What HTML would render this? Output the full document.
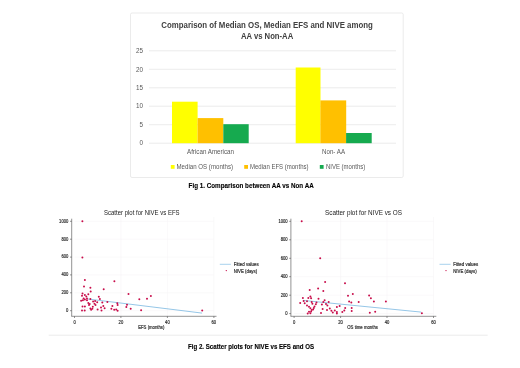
<!DOCTYPE html>
<html><head><meta charset="utf-8"><title>Figures</title>
<style>
html,body{margin:0;padding:0;background:#fff;}
body{width:520px;height:368px;overflow:hidden;}
svg{display:block;font-family:"Liberation Sans",sans-serif;}
</style></head><body>
<svg width="520" height="368" viewBox="0 0 520 368">
<defs><filter id="bl" x="0" y="0" width="100%" height="100%" filterUnits="userSpaceOnUse"><feGaussianBlur stdDeviation="0.3"/></filter></defs>
<g filter="url(#bl)">
<rect width="520" height="368" fill="#fff"/>
<!-- bar chart -->
<g>
<rect x="130.5" y="13" width="272.7" height="164.5" rx="1.5" fill="#fff" stroke="#e3e3e3" stroke-width="0.7"/>
<g stroke="#e4e4e4" stroke-width="0.7">
<line x1="149" x2="396" y1="50.8" y2="50.8"/>
<line x1="149" x2="396" y1="69.3" y2="69.3"/>
<line x1="149" x2="396" y1="87.8" y2="87.8"/>
<line x1="149" x2="396" y1="106.2" y2="106.2"/>
<line x1="149" x2="396" y1="124.7" y2="124.7"/>
<line x1="149" x2="396" y1="143.2" y2="143.2"/>
</g>
<rect x="172" y="101.7" width="25.6" height="41.5" fill="#ffff00"/>
<rect x="197.6" y="118.1" width="25.7" height="25.1" fill="#ffc000"/>
<rect x="223.3" y="124.2" width="25.4" height="19" fill="#14aa50"/>
<rect x="295.7" y="67.5" width="24.8" height="75.7" fill="#ffff00"/>
<rect x="320.4" y="100.4" width="25.8" height="42.8" fill="#ffc000"/>
<rect x="346.1" y="133" width="25.6" height="10.2" fill="#14aa50"/>
<g font-size="6.3" fill="#595959" text-anchor="end">
<text x="143" y="53">25</text><text x="143" y="71.5">20</text><text x="143" y="90">15</text>
<text x="143" y="108.4">10</text><text x="143" y="126.9">5</text><text x="143" y="145.4">0</text>
</g>
<g font-size="6.3" fill="#595959">
<text x="187" y="154" textLength="47" lengthAdjust="spacingAndGlyphs">African American</text>
<text x="322" y="154" textLength="23" lengthAdjust="spacingAndGlyphs">Non- AA</text>
<rect x="170.8" y="165" width="3.8" height="3.8" fill="#ffff00"/>
<text x="176.5" y="169" textLength="56.5" lengthAdjust="spacingAndGlyphs">Median OS (months)</text>
<rect x="244.2" y="165" width="3.8" height="3.8" fill="#ffc000"/>
<text x="250" y="169" textLength="58.5" lengthAdjust="spacingAndGlyphs">Median EFS (months)</text>
<rect x="319.8" y="165" width="3.8" height="3.8" fill="#14aa50"/>
<text x="326" y="169" textLength="39.2" lengthAdjust="spacingAndGlyphs">NIVE (months)</text>
</g>
<g font-size="9" font-weight="bold" fill="#404040">
<text x="161.3" y="28" textLength="211.5" lengthAdjust="spacingAndGlyphs">Comparison of Median OS, Median EFS and NIVE among</text>
<text x="241" y="39.2" textLength="52.2" lengthAdjust="spacingAndGlyphs">AA vs Non-AA</text>
</g>
<text x="188.6" y="188.3" font-size="7" font-weight="bold" fill="#000" stroke="#000" stroke-width="0.12" textLength="125.2" lengthAdjust="spacingAndGlyphs">Fig 1. Comparison between AA vs Non AA</text>
</g>

<!-- left scatter -->
<g>
<g stroke="#f5f3f4" stroke-width="0.5">
<line x1="74.6" x2="213.8" y1="221.3" y2="221.3"/><line x1="74.6" x2="213.8" y1="239.2" y2="239.2"/>
<line x1="74.6" x2="213.8" y1="257.1" y2="257.1"/><line x1="74.6" x2="213.8" y1="274.9" y2="274.9"/>
<line x1="74.6" x2="213.8" y1="292.8" y2="292.8"/><line x1="74.6" x2="213.8" y1="310.7" y2="310.7"/>
<line x1="120.9" x2="120.9" y1="217" y2="316"/><line x1="167.4" x2="167.4" y1="217" y2="316"/><line x1="213.8" x2="213.8" y1="217" y2="316"/>
</g>
<g stroke="#4a4a4a" stroke-width="0.6" fill="none">
<path d="M71.7 218.7V316.3M71.7 221.3h-1.7M71.7 239.2h-1.7M71.7 257.1h-1.7M71.7 274.9h-1.7M71.7 292.8h-1.7M71.7 310.7h-1.7"/>
<path d="M71.4 316.3H216.5M74.5 316.3v1.7M120.9 316.3v1.7M167.4 316.3v1.7M213.9 316.3v1.7"/>
</g>
<line x1="88" y1="299" x2="202.1" y2="313.1" stroke="#72b3df" stroke-width="0.75"/>
<g fill="#c8104c">
<circle cx="84.9" cy="279.9" r="1.0"/>
<circle cx="114.4" cy="281.3" r="1.0"/>
<circle cx="84.0" cy="286.6" r="1.0"/>
<circle cx="90.4" cy="287.7" r="1.0"/>
<circle cx="103.7" cy="289.2" r="1.0"/>
<circle cx="90.7" cy="291.5" r="1.0"/>
<circle cx="82.5" cy="293.4" r="1.0"/>
<circle cx="84.9" cy="294.9" r="1.0"/>
<circle cx="88.3" cy="294.2" r="1.0"/>
<circle cx="82.0" cy="295.8" r="1.0"/>
<circle cx="86.3" cy="296.5" r="1.0"/>
<circle cx="98.8" cy="296.8" r="1.0"/>
<circle cx="83.6" cy="298.5" r="1.0"/>
<circle cx="87.0" cy="298.5" r="1.0"/>
<circle cx="90.4" cy="298.9" r="1.0"/>
<circle cx="99.9" cy="298.9" r="1.0"/>
<circle cx="81.1" cy="300.8" r="1.0"/>
<circle cx="82.9" cy="300.2" r="1.0"/>
<circle cx="84.9" cy="299.6" r="1.0"/>
<circle cx="87.0" cy="300.2" r="1.0"/>
<circle cx="93.1" cy="301.5" r="1.0"/>
<circle cx="95.1" cy="301.0" r="1.0"/>
<circle cx="97.2" cy="302.2" r="1.0"/>
<circle cx="102.3" cy="302.6" r="1.0"/>
<circle cx="107.4" cy="301.9" r="1.0"/>
<circle cx="88.3" cy="303.0" r="1.0"/>
<circle cx="89.7" cy="304.0" r="1.0"/>
<circle cx="94.5" cy="303.7" r="1.0"/>
<circle cx="117.3" cy="303.3" r="1.0"/>
<circle cx="117.6" cy="305.1" r="1.0"/>
<circle cx="82.5" cy="306.4" r="1.0"/>
<circle cx="84.9" cy="306.4" r="1.0"/>
<circle cx="89.0" cy="305.1" r="1.0"/>
<circle cx="92.8" cy="306.7" r="1.0"/>
<circle cx="95.5" cy="304.9" r="1.0"/>
<circle cx="103.3" cy="306.0" r="1.0"/>
<circle cx="101.0" cy="307.4" r="1.0"/>
<circle cx="112.4" cy="306.0" r="1.0"/>
<circle cx="90.4" cy="308.5" r="1.0"/>
<circle cx="92.4" cy="308.7" r="1.0"/>
<circle cx="104.6" cy="308.3" r="1.0"/>
<circle cx="111.4" cy="308.7" r="1.0"/>
<circle cx="82.0" cy="310.5" r="1.0"/>
<circle cx="84.7" cy="310.5" r="1.0"/>
<circle cx="91.1" cy="309.7" r="1.0"/>
<circle cx="97.6" cy="309.4" r="1.0"/>
<circle cx="101.5" cy="310.4" r="1.0"/>
<circle cx="114.2" cy="309.8" r="1.0"/>
<circle cx="116.2" cy="309.4" r="1.0"/>
<circle cx="117.6" cy="310.8" r="1.0"/>
<circle cx="128.5" cy="293.9" r="1.0"/>
<circle cx="139.3" cy="299.3" r="1.0"/>
<circle cx="147.0" cy="298.7" r="1.0"/>
<circle cx="150.9" cy="296.1" r="1.0"/>
<circle cx="126.3" cy="307.0" r="1.0"/>
<circle cx="127.0" cy="304.8" r="1.0"/>
<circle cx="130.7" cy="308.7" r="1.0"/>
<circle cx="141.1" cy="310.2" r="1.0"/>
<circle cx="202.2" cy="310.4" r="1.0"/>
<circle cx="82.4" cy="221.3" r="1.0"/>
<circle cx="82.4" cy="257.4" r="1.0"/>
</g>
<g font-size="4.7" fill="#2a2a2a" stroke="#2a2a2a" stroke-width="0.17" text-anchor="end">
<text x="68.3" y="222.6" textLength="9.2" lengthAdjust="spacingAndGlyphs">1000</text><text x="68.3" y="240.5" textLength="6.9" lengthAdjust="spacingAndGlyphs">800</text><text x="68.3" y="258.4" textLength="6.9" lengthAdjust="spacingAndGlyphs">600</text>
<text x="68.3" y="276.2" textLength="6.9" lengthAdjust="spacingAndGlyphs">400</text><text x="68.3" y="294.1" textLength="6.9" lengthAdjust="spacingAndGlyphs">200</text><text x="68.3" y="312" textLength="2.3" lengthAdjust="spacingAndGlyphs">0</text>
</g>
<g font-size="4.7" fill="#2a2a2a" stroke="#2a2a2a" stroke-width="0.17" text-anchor="middle">
<text x="74.6" y="323.6" textLength="2.3" lengthAdjust="spacingAndGlyphs">0</text><text x="120.9" y="323.6" textLength="4.6" lengthAdjust="spacingAndGlyphs">20</text><text x="167.4" y="323.6" textLength="4.6" lengthAdjust="spacingAndGlyphs">40</text><text x="213.8" y="323.6" textLength="4.6" lengthAdjust="spacingAndGlyphs">60</text>
<text x="151.3" y="329.4" textLength="26.2" lengthAdjust="spacingAndGlyphs">EFS (months)</text>
</g>
<text x="104" y="215.4" font-size="6.4" fill="#222" textLength="75.6" lengthAdjust="spacingAndGlyphs">Scatter plot for NIVE vs EFS</text>
<line x1="219.8" x2="230.9" y1="264.3" y2="264.3" stroke="#84bee5" stroke-width="0.7"/>
<circle cx="226.3" cy="270.6" r="0.7" fill="#c8104c"/>
<g font-size="4.7" fill="#2a2a2a" stroke="#2a2a2a" stroke-width="0.17">
<text x="233.7" y="265.9" textLength="25" lengthAdjust="spacingAndGlyphs">Fitted values</text><text x="233.7" y="272.5" textLength="23.5" lengthAdjust="spacingAndGlyphs">NIVE (days)</text>
</g>
</g>

<!-- right scatter -->
<g>
<g stroke="#f5f3f4" stroke-width="0.5">
<line x1="294.1" x2="433.5" y1="221.3" y2="221.3"/><line x1="294.1" x2="433.5" y1="239.8" y2="239.8"/>
<line x1="294.1" x2="433.5" y1="258.3" y2="258.3"/><line x1="294.1" x2="433.5" y1="276.7" y2="276.7"/>
<line x1="294.1" x2="433.5" y1="295.2" y2="295.2"/><line x1="294.1" x2="433.5" y1="313.6" y2="313.6"/>
<line x1="340.6" x2="340.6" y1="217" y2="316"/><line x1="387" x2="387" y1="217" y2="316"/><line x1="433.5" x2="433.5" y1="217" y2="316"/>
</g>
<g stroke="#4a4a4a" stroke-width="0.6" fill="none">
<path d="M290.9 218.7V316.3M290.9 221.3h-1.7M290.9 239.8h-1.7M290.9 258.3h-1.7M290.9 276.7h-1.7M290.9 295.2h-1.7M290.9 313.6h-1.7"/>
<path d="M290.6 316.3H436.3M294.1 316.3v1.7M340.6 316.3v1.7M387 316.3v1.7M433.5 316.3v1.7"/>
</g>
<line x1="303" y1="300.4" x2="421.2" y2="312.1" stroke="#72b3df" stroke-width="0.75"/>
<g fill="#c8104c">
<circle cx="325.1" cy="282.0" r="1.0"/>
<circle cx="345.0" cy="283.2" r="1.0"/>
<circle cx="309.7" cy="290.1" r="1.0"/>
<circle cx="318.1" cy="288.6" r="1.0"/>
<circle cx="323.3" cy="291.1" r="1.0"/>
<circle cx="302.9" cy="297.9" r="1.0"/>
<circle cx="308.3" cy="297.9" r="1.0"/>
<circle cx="310.4" cy="296.5" r="1.0"/>
<circle cx="311.1" cy="298.3" r="1.0"/>
<circle cx="318.5" cy="298.8" r="1.0"/>
<circle cx="324.6" cy="300.2" r="1.0"/>
<circle cx="303.6" cy="301.0" r="1.0"/>
<circle cx="307.0" cy="301.2" r="1.0"/>
<circle cx="311.7" cy="301.9" r="1.0"/>
<circle cx="316.5" cy="302.6" r="1.0"/>
<circle cx="323.3" cy="301.9" r="1.0"/>
<circle cx="328.7" cy="301.9" r="1.0"/>
<circle cx="300.2" cy="303.0" r="1.0"/>
<circle cx="304.7" cy="303.3" r="1.0"/>
<circle cx="312.4" cy="303.7" r="1.0"/>
<circle cx="315.8" cy="304.2" r="1.0"/>
<circle cx="321.9" cy="304.6" r="1.0"/>
<circle cx="326.0" cy="304.0" r="1.0"/>
<circle cx="327.4" cy="305.6" r="1.0"/>
<circle cx="307.0" cy="305.6" r="1.0"/>
<circle cx="309.0" cy="306.7" r="1.0"/>
<circle cx="314.5" cy="306.4" r="1.0"/>
<circle cx="336.9" cy="307.0" r="1.0"/>
<circle cx="339.6" cy="306.0" r="1.0"/>
<circle cx="310.4" cy="308.3" r="1.0"/>
<circle cx="313.8" cy="308.0" r="1.0"/>
<circle cx="322.6" cy="309.0" r="1.0"/>
<circle cx="329.8" cy="308.5" r="1.0"/>
<circle cx="311.7" cy="310.1" r="1.0"/>
<circle cx="313.1" cy="309.4" r="1.0"/>
<circle cx="327.0" cy="310.1" r="1.0"/>
<circle cx="331.4" cy="310.8" r="1.0"/>
<circle cx="334.8" cy="310.5" r="1.0"/>
<circle cx="344.3" cy="310.5" r="1.0"/>
<circle cx="309.0" cy="311.8" r="1.0"/>
<circle cx="311.1" cy="311.4" r="1.0"/>
<circle cx="332.8" cy="312.4" r="1.0"/>
<circle cx="336.9" cy="312.1" r="1.0"/>
<circle cx="307.7" cy="313.5" r="1.0"/>
<circle cx="310.4" cy="313.2" r="1.0"/>
<circle cx="321.0" cy="313.1" r="1.0"/>
<circle cx="336.9" cy="313.5" r="1.0"/>
<circle cx="342.3" cy="312.1" r="1.0"/>
<circle cx="348.0" cy="295.7" r="1.0"/>
<circle cx="352.8" cy="293.9" r="1.0"/>
<circle cx="349.1" cy="301.5" r="1.0"/>
<circle cx="351.3" cy="302.6" r="1.0"/>
<circle cx="358.7" cy="302.0" r="1.0"/>
<circle cx="345.2" cy="308.0" r="1.0"/>
<circle cx="351.7" cy="308.0" r="1.0"/>
<circle cx="351.7" cy="310.9" r="1.0"/>
<circle cx="369.1" cy="295.4" r="1.0"/>
<circle cx="370.9" cy="298.3" r="1.0"/>
<circle cx="373.9" cy="301.5" r="1.0"/>
<circle cx="369.8" cy="312.8" r="1.0"/>
<circle cx="375.2" cy="311.7" r="1.0"/>
<circle cx="385.9" cy="301.5" r="1.0"/>
<circle cx="421.9" cy="313.2" r="1.0"/>
<circle cx="301.7" cy="221.3" r="1.0"/>
<circle cx="320.2" cy="258.3" r="1.0"/>
</g>
<g font-size="4.7" fill="#2a2a2a" stroke="#2a2a2a" stroke-width="0.17" text-anchor="end">
<text x="287.6" y="222.6" textLength="9.2" lengthAdjust="spacingAndGlyphs">1000</text><text x="287.6" y="241.1" textLength="6.9" lengthAdjust="spacingAndGlyphs">800</text><text x="287.6" y="259.6" textLength="6.9" lengthAdjust="spacingAndGlyphs">600</text>
<text x="287.6" y="278" textLength="6.9" lengthAdjust="spacingAndGlyphs">400</text><text x="287.6" y="296.5" textLength="6.9" lengthAdjust="spacingAndGlyphs">200</text><text x="287.6" y="314.9" textLength="2.3" lengthAdjust="spacingAndGlyphs">0</text>
</g>
<g font-size="4.7" fill="#2a2a2a" stroke="#2a2a2a" stroke-width="0.17" text-anchor="middle">
<text x="294.1" y="323.6" textLength="2.3" lengthAdjust="spacingAndGlyphs">0</text><text x="340.6" y="323.6" textLength="4.6" lengthAdjust="spacingAndGlyphs">20</text><text x="387" y="323.6" textLength="4.6" lengthAdjust="spacingAndGlyphs">40</text><text x="433.5" y="323.6" textLength="4.6" lengthAdjust="spacingAndGlyphs">60</text>
<text x="362.6" y="329.4" textLength="30.6" lengthAdjust="spacingAndGlyphs">OS time months</text>
</g>
<text x="325" y="215.3" font-size="6.4" fill="#222" textLength="77" lengthAdjust="spacingAndGlyphs">Scatter plot for NIVE vs OS</text>
<line x1="439.5" x2="450.6" y1="264.3" y2="264.3" stroke="#84bee5" stroke-width="0.7"/>
<circle cx="446" cy="270.6" r="0.7" fill="#c8104c"/>
<g font-size="4.7" fill="#2a2a2a" stroke="#2a2a2a" stroke-width="0.17">
<text x="453.2" y="265.9" textLength="25" lengthAdjust="spacingAndGlyphs">Fitted values</text><text x="453.2" y="272.5" textLength="23.5" lengthAdjust="spacingAndGlyphs">NIVE (days)</text>
</g>
</g>

<line x1="48.7" x2="487.7" y1="335.2" y2="335.2" stroke="#e6e6e6" stroke-width="0.8"/>
<text x="188" y="349.2" font-size="7" font-weight="bold" fill="#000" stroke="#000" stroke-width="0.12" textLength="126.1" lengthAdjust="spacingAndGlyphs">Fig 2. Scatter plots for NIVE vs EFS and OS</text>
</g>
</svg>
</body></html>
